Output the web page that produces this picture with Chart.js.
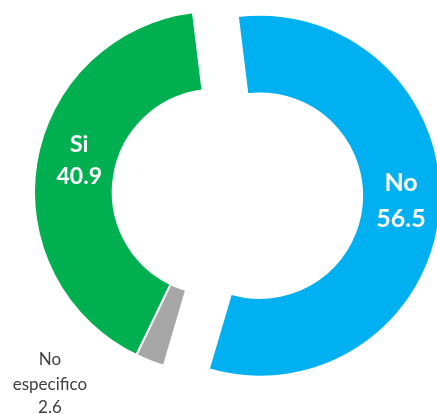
<!DOCTYPE html>
<html>
<head>
<meta charset="utf-8">
<script src="https://cdn.jsdelivr.net/npm/chart.js@4/dist/chart.umd.min.js"></script>
<style>
  html, body { margin: 0; padding: 0; background: #ffffff; }
  canvas { display: block; }
</style>
</head>
<body>
<canvas id="chart" width="437" height="414"></canvas>
<script>
// Answers, in drawing order clockwise from the top
const categories = ['No', 'No especifico', 'Si'];
const values = [56.5, 2.6, 40.9];
const colors = ['#00B0F0', '#A6A6A6', '#00B050'];

// The "No" slice is pulled out of the ring along its bisector
const explodedIndex = 0;
const explodeDistance = 45;

// Moves the pulled-out slice as a whole (Chart.js' own offset also grows
// the radius of slices wider than a half circle)
const explodeSlice = {
  id: 'explodeSlice',
  afterUpdate(chart) {
    const arc = chart.getDatasetMeta(0).data[explodedIndex];
    if (!arc) return;
    const mid = (arc.startAngle + arc.endAngle) / 2;
    arc.x += Math.cos(mid) * explodeDistance;
    arc.y += Math.sin(mid) * explodeDistance;
  }
};

// Draws the category name and value of each slice
const sliceLabels = {
  id: 'sliceLabels',
  afterDatasetsDraw(chart) {
    const ctx = chart.ctx;
    const meta = chart.getDatasetMeta(0);
    ctx.save();
    ctx.textAlign = 'center';
    ctx.textBaseline = 'middle';
    meta.data.forEach((arc, i) => {
      const p = arc.getProps(['x', 'y', 'startAngle', 'endAngle', 'innerRadius', 'outerRadius']);
      const mid = (p.startAngle + p.endAngle) / 2;
      const name = categories[i];
      const val = values[i].toFixed(1);
      if (i === 0) {
        const r = (p.innerRadius + p.outerRadius) / 2;
        const cx = p.x + Math.cos(mid) * r;
        const cy = p.y + Math.sin(mid) * r - 6;
        ctx.fillStyle = '#ffffff';
        ctx.font = 'bold 25px Lato';
        ctx.fillText(name, cx, cy - 18);
        ctx.fillText(val, cx, cy + 18);
      } else if (i === 2) {
        const r = (p.innerRadius + p.outerRadius) / 2;
        const cx = p.x + Math.cos(mid) * r + 4;
        const cy = p.y + Math.sin(mid) * r - 8;
        ctx.fillStyle = '#ffffff';
        ctx.font = 'bold 23px Lato';
        ctx.fillText(name, cx, cy - 16);
        ctx.fillText(val, cx, cy + 16);
      } else {
        // small slice: label sits outside, below and to the left
        const ex = p.x + Math.cos(mid) * p.outerRadius;
        const ey = p.y + Math.sin(mid) * p.outerRadius;
        const lx = ex - 100;
        const ly = ey - 1;
        ctx.fillStyle = '#404040';
        ctx.font = '17px Lato';
        const words = name.split(' ');
        ctx.fillText(words[0], lx, ly);
        ctx.fillText(words[1], lx, ly + 25);
        ctx.fillText(val, lx, ly + 48);
      }
    });
    ctx.restore();
  }
};

new Chart(document.getElementById('chart'), {
  type: 'doughnut',
  data: {
    labels: categories,
    datasets: [{
      data: values,
      backgroundColor: colors,
      borderColor: '#ffffff',
      borderWidth: 2,
      clip: false
    }]
  },
  options: {
    responsive: false,
    animation: false,
    events: [],
    rotation: -7,
    radius: 181,
    cutout: '56.5%',
    layout: { padding: { left: 0, right: 7, top: 0, bottom: 30 } },
    plugins: {
      legend: { display: false },
      tooltip: { enabled: false }
    }
  },
  plugins: [explodeSlice, sliceLabels]
});
</script>
</body>
</html>
